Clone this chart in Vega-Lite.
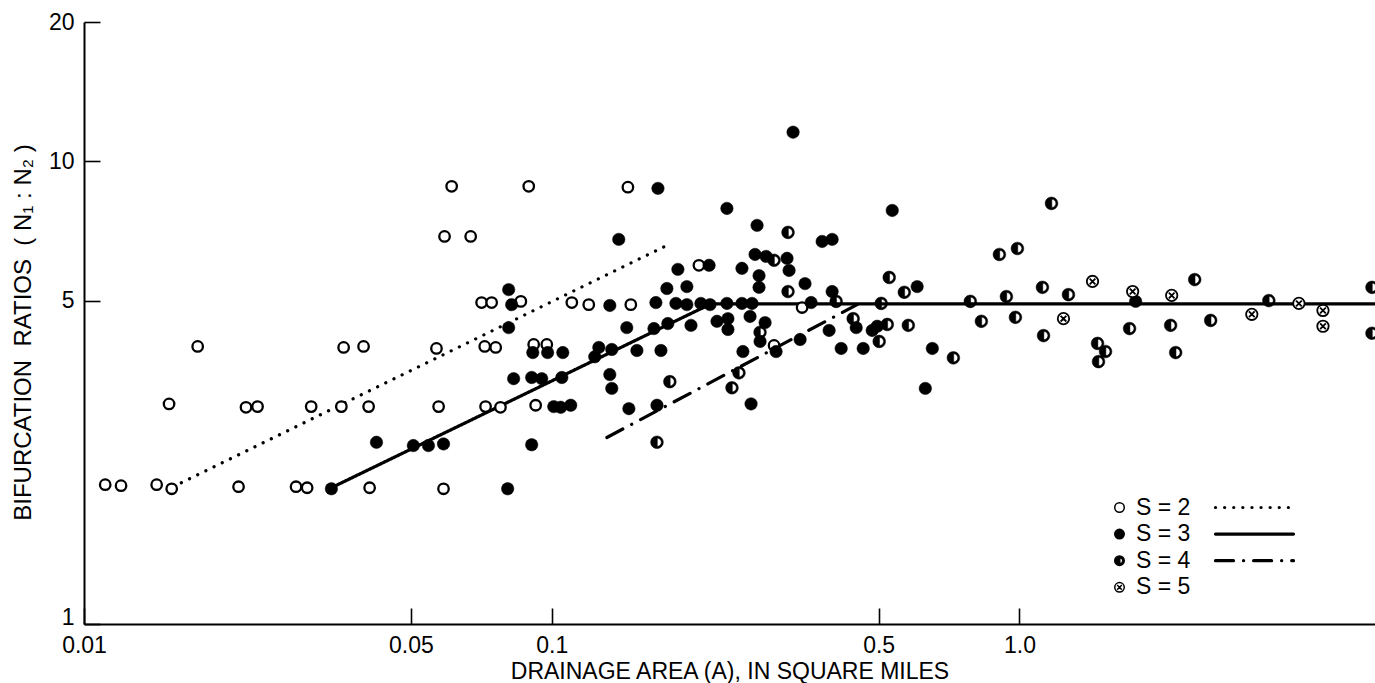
{
  "$schema": "https://vega.github.io/schema/vega-lite/v6.json",
  "autosize": {"type": "none"},
  "padding": {"left": 84, "top": 22, "right": 0, "bottom": 59},
  "width": 1291,
  "height": 602,
  "background": "white",
  "config": {
    "view": {"stroke": null},
    "axis": {"domainColor": "black", "domainWidth": 2, "tickColor": "black", "tickWidth": 1.6, "labelFont": "Liberation Sans", "labelFontSize": 23, "labelColor": "black", "titleFont": "Liberation Sans", "titleFontSize": 23, "titleFontWeight": "normal", "titleColor": "black", "grid": false, "labelFlush": false, "labelOverlap": false, "labelBound": false},
    "legend": {"labelFont": "Liberation Sans", "labelFontSize": 23, "labelColor": "black", "padding": 0}
  },
  "datasets": {
    "pts": [
      {"S":"S = 2","A":0.0111,"R":2.00},{"S":"S = 2","A":0.0120,"R":1.99},{"S":"S = 2","A":0.0143,"R":2.00},{"S":"S = 2","A":0.0154,"R":1.96},{"S":"S = 2","A":0.0214,"R":1.98},{"S":"S = 2","A":0.0284,"R":1.98},{"S":"S = 2","A":0.0300,"R":1.97},{"S":"S = 2","A":0.0408,"R":1.97},{"S":"S = 2","A":0.0587,"R":1.96},
      {"S":"S = 2","A":0.0152,"R":2.99},{"S":"S = 2","A":0.0222,"R":2.94},{"S":"S = 2","A":0.0235,"R":2.95},{"S":"S = 2","A":0.0306,"R":2.95},{"S":"S = 2","A":0.0355,"R":2.95},{"S":"S = 2","A":0.0406,"R":2.95},{"S":"S = 2","A":0.0573,"R":2.95},{"S":"S = 2","A":0.0722,"R":2.95},{"S":"S = 2","A":0.0777,"R":2.94},{"S":"S = 2","A":0.0924,"R":2.97},
      {"S":"S = 2","A":0.0175,"R":3.98},{"S":"S = 2","A":0.0359,"R":3.96},{"S":"S = 2","A":0.0396,"R":3.98},{"S":"S = 2","A":0.0567,"R":3.94},{"S":"S = 2","A":0.0719,"R":3.98},{"S":"S = 2","A":0.0759,"R":3.96},{"S":"S = 2","A":0.0915,"R":4.02},{"S":"S = 2","A":0.0976,"R":4.02},
      {"S":"S = 2","A":0.0708,"R":4.95},{"S":"S = 2","A":0.0744,"R":4.95},{"S":"S = 2","A":0.0859,"R":4.98},{"S":"S = 2","A":0.1104,"R":4.95},{"S":"S = 2","A":0.1200,"R":4.90},{"S":"S = 2","A":0.1476,"R":4.90},
      {"S":"S = 2","A":0.0611,"R":8.83},{"S":"S = 2","A":0.0893,"R":8.83},{"S":"S = 2","A":0.1455,"R":8.79},{"S":"S = 2","A":0.0590,"R":6.88},{"S":"S = 2","A":0.0671,"R":6.88},
      {"S":"S = 2","A":0.2064,"R":5.96},{"S":"S = 2","A":0.2988,"R":4.00},{"S":"S = 2","A":0.3430,"R":4.83},
      {"S":"S = 3","A":0.0338,"R":1.96},{"S":"S = 3","A":0.0422,"R":2.47},{"S":"S = 3","A":0.0506,"R":2.43},{"S":"S = 3","A":0.0545,"R":2.43},{"S":"S = 3","A":0.0587,"R":2.45},{"S":"S = 3","A":0.0805,"R":1.96},
      {"S":"S = 3","A":0.0809,"R":5.28},{"S":"S = 3","A":0.0821,"R":4.90},{"S":"S = 3","A":0.0809,"R":4.37},{"S":"S = 3","A":0.0829,"R":3.39},{"S":"S = 3","A":0.0906,"R":3.41},{"S":"S = 3","A":0.0952,"R":3.39},{"S":"S = 3","A":0.1051,"R":3.41},
      {"S":"S = 3","A":0.0911,"R":3.86},{"S":"S = 3","A":0.0980,"R":3.86},{"S":"S = 3","A":0.1056,"R":3.86},{"S":"S = 3","A":0.1261,"R":3.96},{"S":"S = 3","A":0.1236,"R":3.78},{"S":"S = 3","A":0.1344,"R":3.92},{"S":"S = 3","A":0.1521,"R":3.90},{"S":"S = 3","A":0.1712,"R":3.90},
      {"S":"S = 3","A":0.1331,"R":3.46},{"S":"S = 3","A":0.1344,"R":3.23},{"S":"S = 3","A":0.1010,"R":2.95},{"S":"S = 3","A":0.1045,"R":2.94},{"S":"S = 3","A":0.1098,"R":2.97},{"S":"S = 3","A":0.1462,"R":2.92},{"S":"S = 3","A":0.1679,"R":2.97},{"S":"S = 3","A":0.0906,"R":2.44},
      {"S":"S = 3","A":0.1331,"R":4.88},{"S":"S = 3","A":0.1447,"R":4.37},{"S":"S = 3","A":0.1654,"R":4.35},{"S":"S = 3","A":0.1771,"R":4.46},{"S":"S = 3","A":0.1985,"R":4.42},
      {"S":"S = 3","A":0.1670,"R":4.95},{"S":"S = 3","A":0.1843,"R":4.93},{"S":"S = 3","A":0.1945,"R":4.90},{"S":"S = 3","A":0.2084,"R":4.93},{"S":"S = 3","A":0.2180,"R":4.90},{"S":"S = 3","A":0.2369,"R":4.93},{"S":"S = 3","A":0.2551,"R":4.93},{"S":"S = 3","A":0.2681,"R":4.93},{"S":"S = 3","A":0.3586,"R":4.95},
      {"S":"S = 3","A":0.1687,"R":8.74},{"S":"S = 3","A":0.1391,"R":6.78},{"S":"S = 3","A":0.3281,"R":11.56},{"S":"S = 3","A":0.2369,"R":7.91},{"S":"S = 3","A":0.5346,"R":7.83},{"S":"S = 3","A":0.2748,"R":7.27},{"S":"S = 3","A":0.3786,"R":6.71},{"S":"S = 3","A":0.3977,"R":6.78},
      {"S":"S = 3","A":0.2170,"R":5.96},{"S":"S = 3","A":0.2721,"R":6.29},{"S":"S = 3","A":0.2873,"R":6.23},{"S":"S = 3","A":0.3185,"R":6.17},{"S":"S = 3","A":0.1861,"R":5.84},{"S":"S = 3","A":0.2551,"R":5.87},{"S":"S = 3","A":0.3217,"R":5.81},{"S":"S = 3","A":0.2775,"R":5.66},
      {"S":"S = 3","A":0.3480,"R":5.44},{"S":"S = 3","A":0.1945,"R":5.36},{"S":"S = 3","A":0.1763,"R":5.31},{"S":"S = 3","A":0.2775,"R":5.34},{"S":"S = 3","A":0.3977,"R":5.23},
      {"S":"S = 3","A":0.2256,"R":4.51},{"S":"S = 3","A":0.2381,"R":4.57},{"S":"S = 3","A":0.2381,"R":4.33},{"S":"S = 3","A":0.2655,"R":4.62},{"S":"S = 3","A":0.2859,"R":4.48},{"S":"S = 3","A":0.2789,"R":4.08},
      {"S":"S = 3","A":0.4477,"R":4.37},{"S":"S = 3","A":0.3918,"R":4.31},{"S":"S = 3","A":0.4844,"R":4.31},{"S":"S = 3","A":0.4965,"R":4.40},{"S":"S = 3","A":0.3397,"R":4.12},
      {"S":"S = 3","A":0.3018,"R":3.88},{"S":"S = 3","A":0.2563,"R":3.88},{"S":"S = 3","A":0.4158,"R":3.94},{"S":"S = 3","A":0.4634,"R":3.94},{"S":"S = 3","A":0.2668,"R":2.99},
      {"S":"S = 3","A":0.6044,"R":5.36},{"S":"S = 3","A":0.6513,"R":3.94},{"S":"S = 3","A":0.6292,"R":3.23},{"S":"S = 3","A":1.772,"R":4.98},
      {"S":"S = 4","A":0.3201,"R":7.02},{"S":"S = 4","A":0.2988,"R":6.11},{"S":"S = 4","A":0.3201,"R":5.23},{"S":"S = 4","A":0.5268,"R":5.61},{"S":"S = 4","A":0.5064,"R":4.93},{"S":"S = 4","A":0.2789,"R":4.27},
      {"S":"S = 4","A":0.4411,"R":4.57},{"S":"S = 4","A":0.5218,"R":4.44},{"S":"S = 4","A":0.5014,"R":4.08},{"S":"S = 4","A":0.1789,"R":3.34},{"S":"S = 4","A":0.2514,"R":3.49},{"S":"S = 4","A":0.2429,"R":3.24},{"S":"S = 4","A":0.1679,"R":2.47},
      {"S":"S = 4","A":1.171,"R":8.11},{"S":"S = 4","A":0.9061,"R":6.29},{"S":"S = 4","A":0.9902,"R":6.48},{"S":"S = 4","A":0.5674,"R":5.21},{"S":"S = 4","A":0.7853,"R":4.98},{"S":"S = 4","A":0.9379,"R":5.10},
      {"S":"S = 4","A":1.120,"R":5.34},{"S":"S = 4","A":1.273,"R":5.15},{"S":"S = 4","A":2.370,"R":5.55},{"S":"S = 4","A":3.414,"R":5.00},{"S":"S = 4","A":0.5787,"R":4.42},{"S":"S = 4","A":0.7224,"R":3.76},
      {"S":"S = 4","A":0.8292,"R":4.51},{"S":"S = 4","A":0.9805,"R":4.60},{"S":"S = 4","A":1.126,"R":4.20},{"S":"S = 4","A":1.720,"R":4.35},{"S":"S = 4","A":1.469,"R":4.04},{"S":"S = 4","A":1.528,"R":3.88},
      {"S":"S = 4","A":1.476,"R":3.69},{"S":"S = 4","A":2.105,"R":4.42},{"S":"S = 4","A":2.158,"R":3.86},{"S":"S = 4","A":2.564,"R":4.53},{"S":"S = 4","A":5.672,"R":5.34},{"S":"S = 4","A":5.672,"R":4.25},{"S":"S = 4","A":0.4057,"R":4.98},
      {"S":"S = 5","A":1.433,"R":5.50},{"S":"S = 5","A":1.746,"R":5.23},{"S":"S = 5","A":2.116,"R":5.13},{"S":"S = 5","A":3.958,"R":4.93},{"S":"S = 5","A":4.456,"R":4.76},{"S":"S = 5","A":4.456,"R":4.40},{"S":"S = 5","A":1.242,"R":4.57},{"S":"S = 5","A":3.139,"R":4.67}
    ],
    "lines": [
      {"series":"S = 2","A":0.01551,"R":1.98},{"series":"S = 2","A":0.1763,"R":6.58},
      {"series":"S = 3","A":0.0338,"R":1.97},{"series":"S = 3","A":0.219,"R":4.92},{"series":"S = 3","A":5.757,"R":4.92},
      {"series":"S = 4","A":0.1312,"R":2.53},{"series":"S = 4","A":0.4497,"R":4.90}
    ]
  },
  "encoding": {
    "x": {"field": "A", "type": "quantitative", "scale": {"type": "log", "domain": [0.01, 5.757], "nice": false},
      "axis": {"values": [0.01, 0.05, 0.1, 0.5, 1], "labelExpr": "datum.value >= 1 ? '1.0' : datum.value + ''", "tickSize": -16, "labelPadding": 26, "title": "DRAINAGE AREA (A), IN SQUARE MILES", "titlePadding": 3}},
    "y": {"field": "R", "type": "quantitative", "scale": {"type": "log", "domain": [1, 20], "nice": false},
      "axis": {"values": [1, 5, 10, 20], "labelExpr": "datum.value + ''", "tickSize": -16, "labelPadding": 26, "labelOffset": {"condition": {"test": "datum.value == 1", "value": -7}, "value": 0}, "title": "BIFURCATION\u00a0 RATIOS\u00a0 (\u00a0N₁\u00a0:\u00a0N₂\u00a0)", "titleFontSize": 24, "titleX": -61, "titleY": 310, "titleAngle": -90, "titleAlign": "center", "titleBaseline": "middle"}}
  },
  "layer": [
    {
      "data": {"name": "lines"},
      "mark": {"type": "line", "stroke": "black", "strokeWidth": 3.2, "strokeCap": "round"},
      "encoding": {
        "detail": {"field": "series"},
        "order": {"field": "A", "type": "quantitative"},
        "strokeDash": {"field": "series", "type": "nominal", "scale": {"domain": ["S = 2", "S = 3", "S = 4"], "range": [[0.1, 9], [1, 0], [18, 10, 0.1, 10]]},
          "legend": {"orient": "none", "legendX": 1159, "legendY": 474, "title": null, "symbolType": "M-6.5,0L6.5,0", "symbolSize": 144, "symbolStrokeColor": "black", "symbolStrokeWidth": 3, "labelExpr": "'\u00a0'", "rowPadding": 2.6,
            "encode": {"symbols": {"update": {"strokeCap": {"value": "round"}, "stroke": {"value": "black"}, "strokeWidth": {"value": 3.2}}}}}}
      }
    },
    {
      "data": {"name": "pts"},
      "transform": [{"filter": "datum.S == 'S = 2'"}],
      "mark": {"type": "point", "filled": true, "stroke": "black", "strokeWidth": 2.3, "size": 110, "opacity": 1},
      "encoding": {
        "shape": {"field": "S", "type": "nominal", "scale": {"domain": ["S = 2", "S = 3", "S = 4", "S = 5"], "range": ["circle", "circle", "M0,-1A1,1,0,1,1,0,1A1,1,0,1,1,0,-1Z M0.05,-0.64L0.05,0.64A0.64,0.64,0,0,0,0.05,-0.64Z", "M1,0A1,1,0,1,1,-1,0A1,1,0,1,1,1,0Z M-0.5,-0.5L0.5,0.5 M-0.5,0.5L0.5,-0.5"]},
          "legend": {"orient": "none", "legendX": 1024, "legendY": 474, "title": null, "symbolSize": 90, "labelOffset": 5, "rowPadding": 2.6,
            "encode": {"symbols": {"update": {"stroke": {"value": "black"}, "strokeWidth": {"value": 1.4}}}}}},
        "fill": {"field": "S", "type": "nominal", "scale": {"domain": ["S = 2", "S = 3", "S = 4", "S = 5"], "range": ["white", "black", "black", "white"]},
          "legend": {"orient": "none", "legendX": 1024, "legendY": 474, "title": null, "symbolSize": 90, "labelOffset": 5, "rowPadding": 2.6,
            "encode": {"symbols": {"update": {"stroke": {"value": "black"}, "strokeWidth": {"value": 1.4}}}}}}
      }
    },
    {
      "data": {"name": "pts"},
      "transform": [{"filter": "datum.S == 'S = 3'"}],
      "mark": {"type": "point", "filled": true, "stroke": "black", "strokeWidth": 0.5, "size": 155, "opacity": 1},
      "encoding": {
        "shape": {"field": "S", "type": "nominal"},
        "fill": {"field": "S", "type": "nominal"}
      }
    },
    {
      "data": {"name": "pts"},
      "transform": [{"filter": "datum.S == 'S = 4'"}],
      "mark": {"type": "point", "filled": true, "stroke": "black", "strokeWidth": 0.5, "size": 160, "opacity": 1},
      "encoding": {
        "shape": {"field": "S", "type": "nominal"},
        "fill": {"field": "S", "type": "nominal"}
      }
    },
    {
      "data": {"name": "pts"},
      "transform": [{"filter": "datum.S == 'S = 5'"}],
      "mark": {"type": "point", "filled": true, "stroke": "black", "strokeWidth": 1.8, "size": 130, "opacity": 1},
      "encoding": {
        "shape": {"field": "S", "type": "nominal"},
        "fill": {"field": "S", "type": "nominal"}
      }
    }
  ]
}
